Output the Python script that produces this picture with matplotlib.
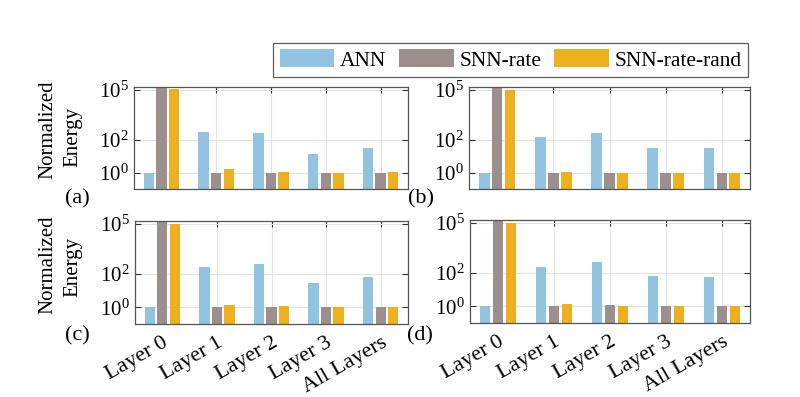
import matplotlib
matplotlib.use("Agg")
import matplotlib.pyplot as plt
import numpy as np

plt.rcParams['font.family'] = ['Liberation Serif', 'DejaVu Serif']
plt.rcParams['mathtext.fontset'] = 'custom'
plt.rcParams['mathtext.rm'] = 'Liberation Serif'
plt.rcParams['mathtext.it'] = 'Liberation Serif:italic'

layers = ['Layer 0', 'Layer 1', 'Layer 2', 'Layer 3', 'All Layers']
series = ['ANN', 'SNN-rate', 'SNN-rate-rand']
colors = ['#92c3e1', '#9c8f8d', '#edb120']

# values (normalized energy, log scale)
a_ann = [1, 275, 250, 14, 31]
a_rate = [3e5, 1, 1, 1, 1]
a_rand = [1.1e5, 1.7, 1.15, 1, 1.05]

b_ann = [1, 150, 255, 33, 30]
b_rate = [3e5, 1, 1, 1, 1]
b_rand = [1.05e5, 1.05, 1, 1, 1]

c_ann = [1, 270, 385, 30, 63]
c_rate = [3e5, 1, 1, 1, 1]
c_rand = [1.05e5, 1.45, 1.15, 1, 1]

d_ann = [1, 240, 470, 67, 58]
d_rate = [3e5, 1, 1.25, 1, 1]
d_rand = [1.05e5, 1.45, 1, 1.05, 1.05]

panels = {'(a)': [a_ann, a_rate, a_rand],
          '(b)': [b_ann, b_rate, b_rand],
          '(c)': [c_ann, c_rate, c_rand],
          '(d)': [d_ann, d_rate, d_rand]}

W, H = 800, 397
fig = plt.figure(figsize=(8, 3.97), dpi=100)

def box(l, t, r, b):
    return [l / W, 1 - b / H, (r - l) / W, (b - t) / H]

pos = {'(a)': box(134, 87, 408, 189),
       '(b)': box(469, 87, 750, 189),
       '(c)': box(135, 221, 408, 324),
       '(d)': box(470, 220, 750, 323)}
lab_xy = {'(a)': (77, 199), '(b)': (421, 199), '(c)': (77, 336), '(d)': (420, 336)}

x = np.arange(1, 6)
offs = [-0.23, 0, 0.23]
handles = []
for name, vals in panels.items():
    ax = fig.add_axes(pos[name])
    ax.set_yscale('log')
    for i in range(3):
        h = ax.bar(x + offs[i], vals[i], width=0.19, color=colors[i], label=series[i])
        if name == '(a)':
            handles.append(h)
    ax.set_xlim(0.5, 5.5)
    ax.set_ylim(0.1, 1.55e5)
    ax.set_yticks([1, 1e2, 1e5])
    ax.set_yticklabels([r'$10^0$', r'$10^2$', r'$10^5$'], fontsize=15)
    ax.minorticks_off()
    ax.set_xticks(x)
    if name in ('(c)', '(d)'):
        ax.set_xticklabels(layers, rotation=30, ha='right', rotation_mode='anchor', fontsize=16)
    else:
        ax.set_xticklabels([])
    ax.tick_params(direction='in', length=4, width=0.8, color='#333333',
                   top=True, right=True, pad=4)
    ax.tick_params(axis='x', pad=7)
    ax.grid(True, color='#e3e3e3', linewidth=0.8)
    ax.set_axisbelow(True)
    for s in ax.spines.values():
        s.set_color('#555555')
        s.set_linewidth(0.9)
    fig.text(lab_xy[name][0] / W, 1 - lab_xy[name][1] / H, name,
             ha='center', va='center', fontsize=16)

# y labels
for ny, ey in [(130, 137), (265, 267)]:
    fig.text(48 / W, 1 - ny / H, 'Normalized', rotation=90, ha='center', va='center', fontsize=15)
    fig.text(73 / W, 1 - ey / H, 'Energy', rotation=90, ha='center', va='center', fontsize=15)

leg = fig.legend(handles=handles, loc='upper right', bbox_to_anchor=(748 / W, 1 - 43 / H),
                 ncol=3, fontsize=15.5, frameon=True, fancybox=False, handlelength=2.55,
                 handleheight=0.88, columnspacing=0.6, handletextpad=0.25, borderpad=0.3,
                 borderaxespad=0)
leg.get_frame().set_edgecolor('#333333')
leg.get_frame().set_linewidth(0.9)

fig.savefig('out.png', dpi=100)
